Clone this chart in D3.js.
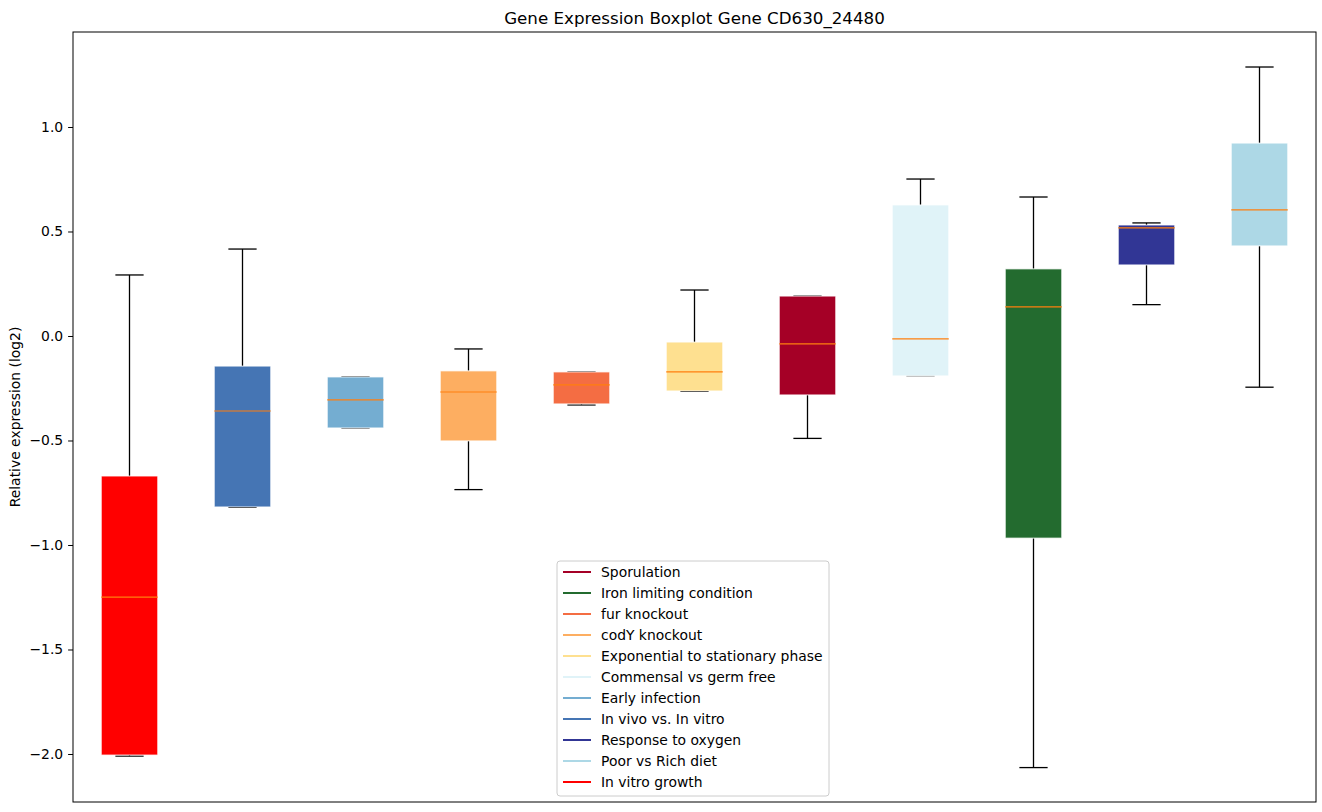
<!DOCTYPE html>
<html>
  <head>
    <meta charset="utf-8">
    <script src="https://d3js.org/d3.v7.min.js"></script>
    <style>
      body { margin: 0; background: #fff; }
      svg { display: block; font-family: "DejaVu Sans", sans-serif; }
    </style>
  </head>
  <body>
    <svg width="1322" height="812"></svg>
    <script>
      // box order along the x axis
      const groups = ["In vitro growth", "In vivo vs. In vitro", "Early infection", "codY knockout",
        "fur knockout", "Exponential to stationary phase", "Sporulation", "Commensal vs germ free",
        "Iron limiting condition", "Response to oxygen", "Poor vs Rich diet"];
      const whiskerLow = [-2.01, -0.82, -0.44, -0.735, -0.33, -0.265, -0.49, -0.19, -2.065, 0.15, -0.245];
      const q1 = [-2.005, -0.818, -0.44, -0.502, -0.325, -0.263, -0.282, -0.191, -0.967, 0.34, 0.431];
      const median = [-1.249, -0.359, -0.306, -0.268, -0.234, -0.172, -0.038, -0.014, 0.139, 0.517, 0.603];
      const q3 = [-0.67, -0.144, -0.196, -0.167, -0.172, -0.029, 0.191, 0.627, 0.321, 0.531, 0.923];
      const whiskerHigh = [0.292, 0.416, -0.196, -0.062, -0.172, 0.22, 0.191, 0.751, 0.665, 0.541, 1.287];
      const colors = ["#ff0000", "#4575b4", "#74add1", "#fdae61", "#f46d43", "#fee090", "#a50026",
        "#e0f3f8", "#236b2f", "#313695", "#add8e6"];

      const legendOrder = ["Sporulation", "Iron limiting condition", "fur knockout", "codY knockout",
        "Exponential to stationary phase", "Commensal vs germ free", "Early infection",
        "In vivo vs. In vitro", "Response to oxygen", "Poor vs Rich diet", "In vitro growth"];
      const yTicks = [-2.0, -1.5, -1.0, -0.5, 0.0, 0.5, 1.0];

      const svg = d3.select("svg");
      const mLeft = 73, mRight = 1316, mTop = 32, mBottom = 802;

      const x = d3.scaleLinear().domain([0.5, groups.length + 0.5]).range([mLeft, mRight]);
      const y = d3.scaleLinear().domain([-2.2297, 1.4545]).range([mBottom, mTop]);
      const boxW = x(1.5) - x(1);
      const capW = boxW / 2;

      const data = groups.map((g, i) => ({
        name: g, pos: i + 1, lo: whiskerLow[i], q1: q1[i], med: median[i],
        q3: q3[i], hi: whiskerHigh[i], color: colors[i]
      }));

      const g = svg.append("g");

      // whiskers and caps
      data.forEach(d => {
        const cx = x(d.pos);
        g.append("line").attr("x1", cx).attr("x2", cx).attr("y1", y(d.q3)).attr("y2", y(d.hi))
          .attr("stroke", "#000").attr("stroke-width", 1.3);
        g.append("line").attr("x1", cx).attr("x2", cx).attr("y1", y(d.q1)).attr("y2", y(d.lo))
          .attr("stroke", "#000").attr("stroke-width", 1.3);
        [d.hi, d.lo].forEach(v => {
          g.append("line").attr("x1", cx - capW / 2).attr("x2", cx + capW / 2)
            .attr("y1", y(v)).attr("y2", y(v)).attr("stroke", "#000").attr("stroke-width", 1.3);
        });
      });

      // boxes
      g.selectAll("rect.box").data(data).enter().append("rect")
        .attr("class", "box")
        .attr("x", d => x(d.pos) - boxW / 2)
        .attr("width", boxW)
        .attr("y", d => y(d.q3))
        .attr("height", d => y(d.q1) - y(d.q3))
        .attr("fill", d => d.color)
        .attr("stroke", "#fff")
        .attr("stroke-opacity", 0.8)
        .attr("stroke-width", 1);

      // medians
      g.selectAll("line.med").data(data).enter().append("line")
        .attr("class", "med")
        .attr("x1", d => x(d.pos) - boxW / 2)
        .attr("x2", d => x(d.pos) + boxW / 2)
        .attr("y1", d => y(d.med))
        .attr("y2", d => y(d.med))
        .attr("stroke", "#ff7f0e")
        .attr("stroke-width", 1.2);

      // y axis
      const yAxis = d3.axisLeft(y).tickValues(yTicks).tickFormat(d3.format(".1f"))
        .tickSize(4.9).tickPadding(4.9);
      const ya = svg.append("g").attr("transform", `translate(${mLeft},0)`).call(yAxis);
      ya.select(".domain").remove();
      ya.selectAll("text").attr("font-size", 13.9).attr("font-family", "DejaVu Sans").attr("fill", "#000");
      ya.selectAll("line").attr("stroke", "#000");

      // frame
      svg.append("rect").attr("x", mLeft).attr("y", mTop).attr("width", mRight - mLeft).attr("height", mBottom - mTop)
        .attr("fill", "none").attr("stroke", "#000").attr("stroke-width", 1);

      // title and label
      svg.append("text").attr("x", (mLeft + mRight) / 2).attr("y", mTop - 8)
        .attr("text-anchor", "middle").attr("font-size", 16.7).text("Gene Expression Boxplot Gene CD630_24480");
      svg.append("text").attr("transform", `translate(20,${(mTop + mBottom) / 2}) rotate(-90)`)
        .attr("text-anchor", "middle").attr("font-size", 13.9)
        .text("Relative expression (log2)");

      // legend
      const colorOf = name => colors[groups.indexOf(name)];
      const lg = svg.append("g").attr("transform", "translate(557,561)");
      lg.append("rect").attr("x", 0).attr("y", 0).attr("width", 272).attr("height", 235)
        .attr("rx", 3).attr("fill", "#fff").attr("fill-opacity", 0.8)
        .attr("stroke", "#ccc").attr("stroke-width", 1);
      const rows = lg.selectAll("g.row").data(legendOrder).enter().append("g")
        .attr("class", "row").attr("transform", (d, i) => `translate(0,${11 + i * 21})`);
      rows.append("line").attr("x1", 6).attr("x2", 34).attr("y1", 0).attr("y2", 0)
        .attr("stroke", d => colorOf(d)).attr("stroke-width", 2);
      rows.append("text").attr("x", 44).attr("y", 0).attr("dy", "0.35em")
        .attr("font-size", 13.9).attr("fill", "#000").text(d => d);
    </script>
  </body>
</html>
